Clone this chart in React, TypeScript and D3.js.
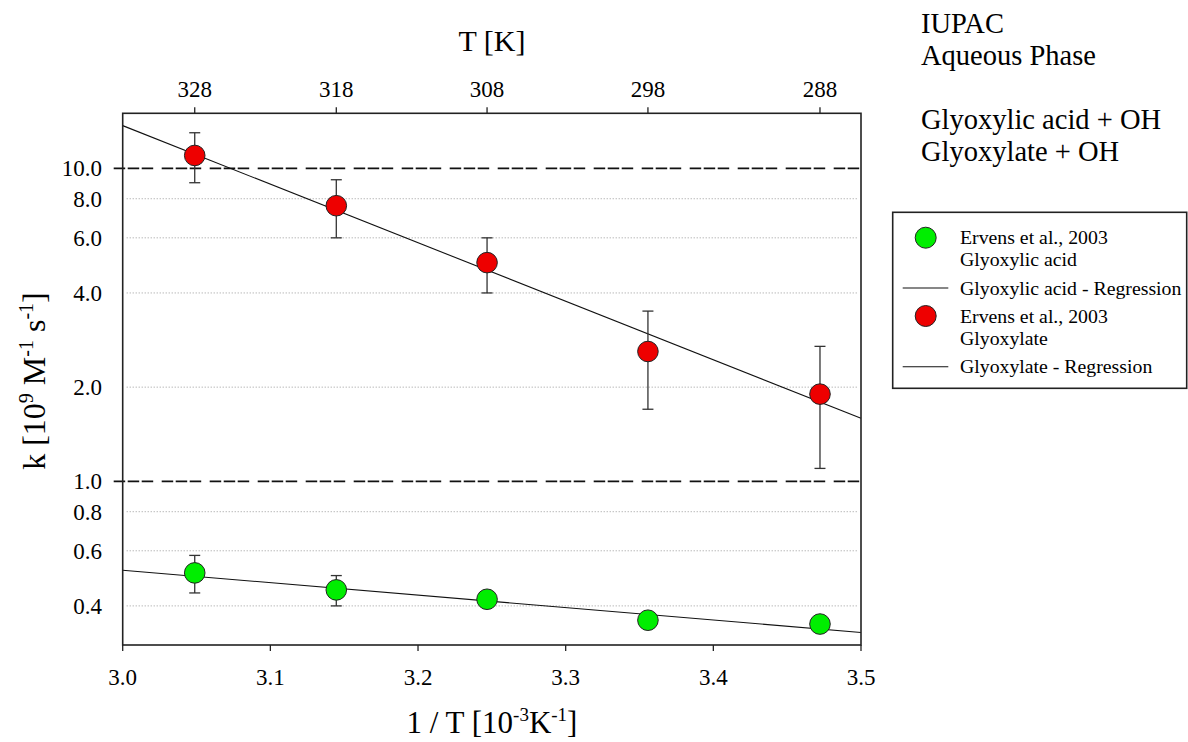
import React, { useEffect, useRef } from "react";
import * as d3 from "d3";

// temperatures of the measurements [K]
const temperatures = [328, 318, 308, 298, 288];
const xTicks = [3.0, 3.1, 3.2, 3.3, 3.4, 3.5];
const yTickLabels = [0.4, 0.6, 0.8, 1.0, 2.0, 4.0, 6.0, 8.0, 10.0];
const dashedLevels = [1.0, 10.0];
const dottedLevels = [0.4, 0.6, 0.8, 2.0, 4.0, 6.0, 8.0];

// Ervens et al., 2003 - glyoxylate
const glyoxylateK = [11.0, 7.6, 5.0, 2.6, 1.9];
const glyoxylateLow = [9.0, 6.0, 4.0, 1.7, 1.1];
const glyoxylateHigh = [13.0, 9.2, 6.0, 3.5, 2.7];

// Ervens et al., 2003 - glyoxylic acid
const glyoxylicK = [0.51, 0.45, 0.42, 0.36, 0.35];
const glyoxylicLow = [0.44, 0.4, null, null, null];
const glyoxylicHigh = [0.58, 0.5, null, null, null];

// regression lines, evaluated at the ends of the x range
const fitX = [3.0, 3.5];
const glyoxylateFit = [13.7, 1.59];
const glyoxylicFit = [0.52, 0.329];

const FONT = "Liberation Serif, Times New Roman, serif";

const Chart = () => {
  const ref = useRef<SVGSVGElement | null>(null);

  useEffect(() => {
    const svg = d3.select(ref.current);
    svg.selectAll("*").remove();

    const left = 122.7;
    const right = 861;
    const top = 113.3;
    const bottom = 645;

    const x = d3.scaleLinear().domain([3.0, 3.5]).range([left, right]);
    const y = d3.scaleLog().domain([0.3, 15]).range([bottom, top]);

    const g = svg.append("g").attr("font-family", FONT);

    // grid
    g.selectAll(".dot")
      .data(dottedLevels)
      .enter()
      .append("line")
      .attr("x1", left + 4)
      .attr("x2", right - 3)
      .attr("y1", (d) => y(d))
      .attr("y2", (d) => y(d))
      .attr("stroke", "#9a9a9a")
      .attr("stroke-width", 1)
      .attr("stroke-dasharray", "1 2");

    g.selectAll(".dash")
      .data(dashedLevels)
      .enter()
      .append("line")
      .attr("x1", left - 9)
      .attr("x2", right)
      .attr("y1", (d) => y(d))
      .attr("y2", (d) => y(d))
      .attr("stroke", "#111")
      .attr("stroke-width", 1.6)
      .attr("stroke-dasharray", "11.5 2.5 11.5 2.5 11.5 8.5");

    // regression lines
    const line = d3
      .line<number>()
      .x((d, i) => x(fitX[i]))
      .y((d) => y(d));
    [glyoxylateFit, glyoxylicFit].forEach((fit) => {
      g.append("path")
        .attr("d", line(fit))
        .attr("fill", "none")
        .attr("stroke", "#111")
        .attr("stroke-width", 1.1);
    });

    // error bars + points
    const series = [
      { k: glyoxylicK, lo: glyoxylicLow, hi: glyoxylicHigh, color: "#00ee00" },
      { k: glyoxylateK, lo: glyoxylateLow, hi: glyoxylateHigh, color: "#ee0000" },
    ];
    series.forEach((s) => {
      temperatures.forEach((t, i) => {
        const lo = s.lo[i];
        const hi = s.hi[i];
        if (lo == null || hi == null) return;
        const cx = x(1000 / t);
        g.append("line")
          .attr("x1", cx).attr("x2", cx)
          .attr("y1", y(lo)).attr("y2", y(hi))
          .attr("stroke", "#333").attr("stroke-width", 1.3);
        [lo, hi].forEach((v) => {
          g.append("line")
            .attr("x1", cx - 5.5).attr("x2", cx + 5.5)
            .attr("y1", y(v)).attr("y2", y(v))
            .attr("stroke", "#333").attr("stroke-width", 1.3);
        });
      });
      g.selectAll(null)
        .data(s.k)
        .enter()
        .append("circle")
        .attr("cx", (d, i) => x(1000 / temperatures[i]))
        .attr("cy", (d) => y(d))
        .attr("r", 10.3)
        .attr("fill", s.color)
        .attr("stroke", "#222")
        .attr("stroke-width", 1);
    });

    // frame
    g.append("rect")
      .attr("x", left)
      .attr("y", top)
      .attr("width", right - left)
      .attr("height", bottom - top)
      .attr("fill", "none")
      .attr("stroke", "#222")
      .attr("stroke-width", 1.6);

    // bottom axis
    g.selectAll(".xt")
      .data(xTicks)
      .enter()
      .append("line")
      .attr("x1", (d) => x(d)).attr("x2", (d) => x(d))
      .attr("y1", bottom).attr("y2", bottom + 6)
      .attr("stroke", "#222").attr("stroke-width", 1.3);
    g.selectAll(".xl")
      .data(xTicks)
      .enter()
      .append("text")
      .attr("x", (d) => x(d))
      .attr("y", 685)
      .attr("text-anchor", "middle")
      .attr("font-size", 23)
      .text((d) => d.toFixed(1));

    // top axis (temperature)
    g.selectAll(".tt")
      .data(temperatures)
      .enter()
      .append("line")
      .attr("x1", (d) => x(1000 / d)).attr("x2", (d) => x(1000 / d))
      .attr("y1", top).attr("y2", top - 6)
      .attr("stroke", "#222").attr("stroke-width", 1.3);
    g.selectAll(".tl")
      .data(temperatures)
      .enter()
      .append("text")
      .attr("x", (d) => x(1000 / d))
      .attr("y", 97)
      .attr("text-anchor", "middle")
      .attr("font-size", 23)
      .text((d) => d);

    // left axis labels
    g.selectAll(".yl")
      .data(yTickLabels)
      .enter()
      .append("text")
      .attr("x", 102)
      .attr("y", (d) => y(d) + 8)
      .attr("text-anchor", "end")
      .attr("font-size", 23)
      .text((d) => d.toFixed(1));

    // axis titles
    g.append("text")
      .attr("x", 492)
      .attr("y", 51)
      .attr("text-anchor", "middle")
      .attr("font-size", 30)
      .text("T [K]");

    const xt = g
      .append("text")
      .attr("x", 492)
      .attr("y", 733)
      .attr("text-anchor", "middle")
      .attr("font-size", 31);
    xt.append("tspan").text("1 / T [10");
    xt.append("tspan").attr("dy", -12).attr("font-size", 19).text("-3");
    xt.append("tspan").attr("dy", 12).text("K");
    xt.append("tspan").attr("dy", -12).attr("font-size", 19).text("-1");
    xt.append("tspan").attr("dy", 12).text("]");

    const yt = g
      .append("text")
      .attr("transform", "translate(45,381) rotate(-90)")
      .attr("text-anchor", "middle")
      .attr("font-size", 32);
    yt.append("tspan").text("k [10");
    yt.append("tspan").attr("dy", -12).attr("font-size", 20).text("9");
    yt.append("tspan").attr("dy", 12).text(" M");
    yt.append("tspan").attr("dy", -12).attr("font-size", 20).text("-1");
    yt.append("tspan").attr("dy", 12).text(" s");
    yt.append("tspan").attr("dy", -12).attr("font-size", 20).text("-1");
    yt.append("tspan").attr("dy", 12).text("]");

    // header text on the right
    const header = [
      { t: "IUPAC", y: 33 },
      { t: "Aqueous Phase", y: 65 },
      { t: "Glyoxylic acid + OH", y: 129 },
      { t: "Glyoxylate + OH", y: 161 },
    ];
    g.selectAll(".hd")
      .data(header)
      .enter()
      .append("text")
      .attr("x", 921)
      .attr("y", (d) => d.y)
      .attr("font-size", 28.5)
      .text((d) => d.t);

    // legend
    const lg = g.append("g");
    lg.append("rect")
      .attr("x", 892.7)
      .attr("y", 212.3)
      .attr("width", 294)
      .attr("height", 176)
      .attr("fill", "white")
      .attr("stroke", "#222")
      .attr("stroke-width", 1.6);
    const legendMarks = [
      { kind: "dot", color: "#00ee00", y: 237.7 },
      { kind: "line", y: 288 },
      { kind: "dot", color: "#ee0000", y: 316 },
      { kind: "line", y: 366.7 },
    ];
    legendMarks.forEach((m) => {
      if (m.kind === "dot") {
        lg.append("circle")
          .attr("cx", 925.7).attr("cy", m.y).attr("r", 10.5)
          .attr("fill", m.color as string)
          .attr("stroke", "#222").attr("stroke-width", 1);
      } else {
        lg.append("line")
          .attr("x1", 902.7).attr("x2", 948.3)
          .attr("y1", m.y).attr("y2", m.y)
          .attr("stroke", "#111").attr("stroke-width", 1.1);
      }
    });
    const legendText = [
      { t: "Ervens et al., 2003", y: 244.3 },
      { t: "Glyoxylic acid", y: 266.3 },
      { t: "Glyoxylic acid - Regression", y: 294.5 },
      { t: "Ervens et al., 2003", y: 322.5 },
      { t: "Glyoxylate", y: 344.5 },
      { t: "Glyoxylate - Regression", y: 372.7 },
    ];
    lg.selectAll("text")
      .data(legendText)
      .enter()
      .append("text")
      .attr("x", 960)
      .attr("y", (d) => d.y)
      .attr("font-size", 19.8)
      .text((d) => d.t);
  }, []);

  return (
    <svg
      ref={ref}
      width={1188}
      height={742}
      style={{ position: "absolute", left: 0, top: 0, background: "white" }}
    />
  );
};

export default function App() {
  return <Chart />;
}
